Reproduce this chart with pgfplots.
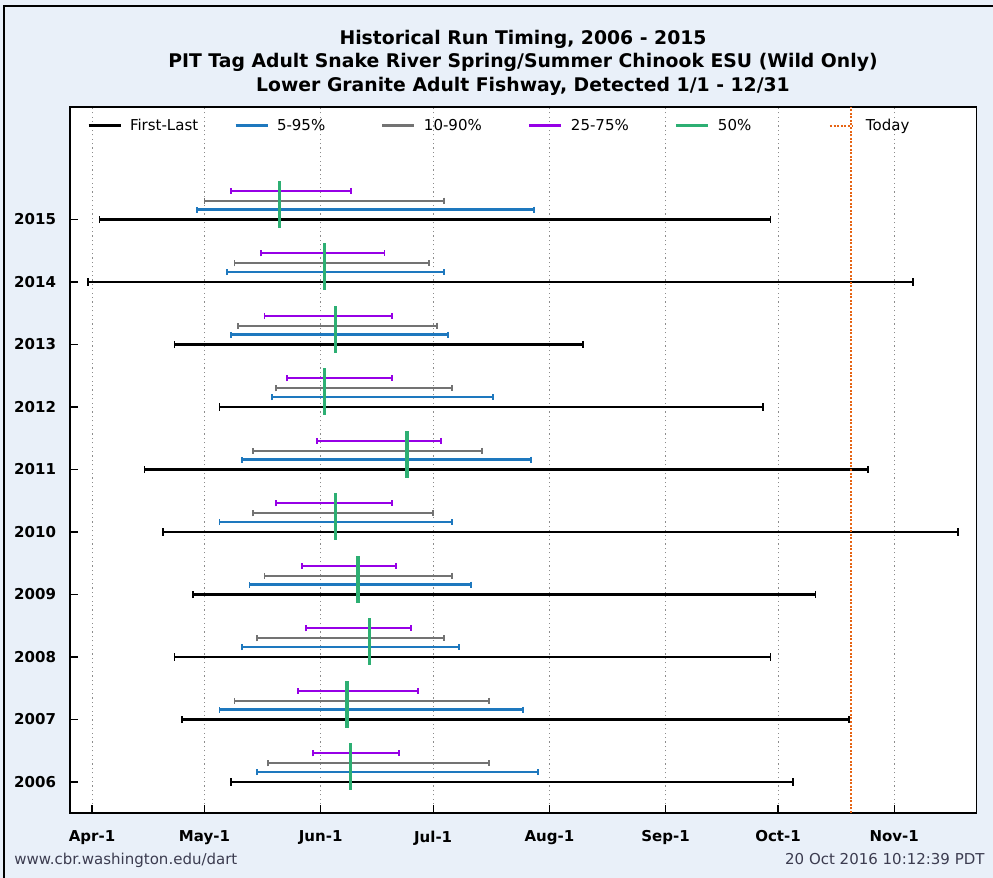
\documentclass[border=0pt]{standalone}
\usepackage{pgfplots}
\pgfplotsset{compat=1.18}
\usepackage{pgfplotstable}
\usepackage{fontspec}
\setmainfont{DejaVu Sans}

\definecolor{pageBg}{RGB}{233,240,249}
\definecolor{firstLast}{RGB}{0,0,0}
\definecolor{pFive}{RGB}{30,120,190}
\definecolor{pTen}{RGB}{115,115,115}
\definecolor{pQuart}{RGB}{150,0,230}
\definecolor{pMed}{RGB}{45,175,115}
\definecolor{today}{RGB}{230,100,20}
\definecolor{footer}{RGB}{60,60,80}

% Run timing per year, in days after April 1
\pgfplotstableread{
year firstLo firstHi p5Lo p5Hi p10Lo p10Hi p25Lo p25Hi p50
2015   2 181 28 118 30  94 37 69 50
2014  -1 219 36  94 38  90 45 78 62
2013  22 131 37  95 39  92 46 80 65
2012  34 179 48 107 49  96 52 80 62
2011  14 207 40 117 43 104 60 93 84
2010  19 231 34  96 43  91 49 80 65
2009  27 193 42 101 46  96 56 81 71
2008  22 181 40  98 44  94 57 85 74
2007  24 202 34 115 38 106 55 87 68
2006  37 187 44 119 47 106 59 82 69
}\runtiming

% one horizontal interval per year with end caps
\pgfplotsset{
  interval/.style n args={3}{% color, width, cap size
    draw=none, mark=none, forget plot,
    error bars/.cd,
      x dir=both, x explicit,
      error mark=|,
      error bar style={color=#1, line width=#2},
      error mark options={color=#1, line width=0.9pt, mark size=#3},
  },
}

\begin{document}
\begin{tikzpicture}
\begin{scope}[x=0.5pt,y=-0.5pt]
  \useasboundingbox (0,0) rectangle (993,878);
  \fill[pageBg] (0,0) rectangle (993,878);
  \draw[black, line width=0.8pt] (4,878) -- (4,6) -- (993,6);
  \node[font=\bfseries\fontsize{9.4}{11}\selectfont, anchor=base] at (523,45) {Historical Run Timing, 2006 - 2015};
  \node[font=\bfseries\fontsize{9.4}{11}\selectfont, anchor=base] at (523,68) {PIT Tag Adult Snake River Spring/Summer Chinook ESU (Wild Only)};
  \node[font=\bfseries\fontsize{9.4}{11}\selectfont, anchor=base] at (523,91) {Lower Granite Adult Fishway, Detected 1/1 - 12/31};
\end{scope}

\begin{axis}[
  at={(35pt,-406.5pt)}, anchor=south west,
  scale only axis, width=453.35pt, height=353pt,
  xmin=-5.87, xmax=236, ymin=2005.504, ymax=2016.8,
  axis background/.style={fill=white},
  axis line style={line width=0.75pt, black},
  xtick={0,30,61,91,122,153,183,214},
  xticklabels={Apr-1,May-1,Jun-1,Jul-1,Aug-1,Sep-1,Oct-1,Nov-1},
  ytick={2006,2007,2008,2009,2010,2011,2012,2013,2014,2015},
  yticklabels={2006,2007,2008,2009,2010,2011,2012,2013,2014,2015},
  tick align=inside, tick pos=left, major tick length=4pt,
  tick style={black, line width=0.6pt},
  xmajorgrids=true,
  major grid style={color=black!45, line width=0.4pt, dash pattern=on 0.6pt off 1.6pt},
  /pgf/number format/assume math mode=true,
  ticklabel style={font=\bfseries\fontsize{7.5}{9}\selectfont},
  xticklabel style={yshift=-5.3pt},
  yticklabel style={xshift=-3.5pt},
  legend columns=6,
  legend style={
    at={(0.01875,0.9731)}, anchor=west,
    draw=none, fill=none, inner sep=0pt, outer sep=0pt,
    font=\fontsize{7.5}{9}\selectfont,
    nodes={inner sep=0pt},
    /tikz/every odd column/.append style={column sep=4pt},
  },
  legend image code/.code={\draw[#1] (0pt,0pt) -- (16pt,0pt);},
]
% first to last detection
\addplot[interval={firstLast}{1.4pt}{1.8pt}]
  table[y=year, x expr={(\thisrow{firstLo}+\thisrow{firstHi})/2},
        x error expr={(\thisrow{firstHi}-\thisrow{firstLo})/2}] {\runtiming};
% 5-95 percent passage
\addplot[interval={pFive}{1.15pt}{1.5pt}]
  table[y expr={\thisrow{year}+0.16}, x expr={(\thisrow{p5Lo}+\thisrow{p5Hi})/2},
        x error expr={(\thisrow{p5Hi}-\thisrow{p5Lo})/2}] {\runtiming};
% 10-90 percent passage
\addplot[interval={pTen}{1.15pt}{1.5pt}]
  table[y expr={\thisrow{year}+0.30}, x expr={(\thisrow{p10Lo}+\thisrow{p10Hi})/2},
        x error expr={(\thisrow{p10Hi}-\thisrow{p10Lo})/2}] {\runtiming};
% 25-75 percent passage
\addplot[interval={pQuart}{1.15pt}{1.5pt}]
  table[y expr={\thisrow{year}+0.46}, x expr={(\thisrow{p25Lo}+\thisrow{p25Hi})/2},
        x error expr={(\thisrow{p25Hi}-\thisrow{p25Lo})/2}] {\runtiming};
% today marker
\addplot[today, line width=1pt, dash pattern=on 1pt off 0.8pt, forget plot]
  coordinates {(202.5,2005.504) (202.5,2016.8)};
% median passage
\addplot[draw=none, mark=none, forget plot,
  error bars/.cd, y dir=both, y fixed=0.375, error mark=none,
  error bar style={color=pMed, line width=1.8pt}]
  table[x=p50, y expr={\thisrow{year}+0.245}] {\runtiming};

\addlegendimage{firstLast, line width=1.5pt}
\addlegendentry{\makebox[52pt][l]{First-Last}}
\addlegendimage{pFive, line width=1.5pt}
\addlegendentry{\makebox[52pt][l]{5-95\%}}
\addlegendimage{pTen, line width=1.5pt}
\addlegendentry{\makebox[52pt][l]{10-90\%}}
\addlegendimage{pQuart, line width=1.5pt}
\addlegendentry{\makebox[52pt][l]{25-75\%}}
\addlegendimage{pMed, line width=1.5pt}
\addlegendentry{\makebox[52pt][l]{50\%}}
\addlegendimage{legend image code/.code={\path[draw=none] (0pt,0pt) -- (18pt,0pt);
  \draw[today, line width=1pt, dash pattern=on 1pt off 0.8pt] (4pt,0pt) -- (15pt,0pt);}}
\addlegendentry{\makebox[40pt][l]{Today}}
\end{axis}

\begin{scope}[x=0.5pt,y=-0.5pt]
  \node[font=\fontsize{7.5}{9}\selectfont, text=footer, anchor=base west, inner sep=0pt] at (14,864.5) {www.cbr.washington.edu/dart};
  \node[font=\fontsize{7.5}{9}\selectfont, text=footer, anchor=base east, inner sep=0pt] at (985,864.5) {20 Oct 2016 10:12:39 PDT};
\end{scope}
\end{tikzpicture}
\end{document}
